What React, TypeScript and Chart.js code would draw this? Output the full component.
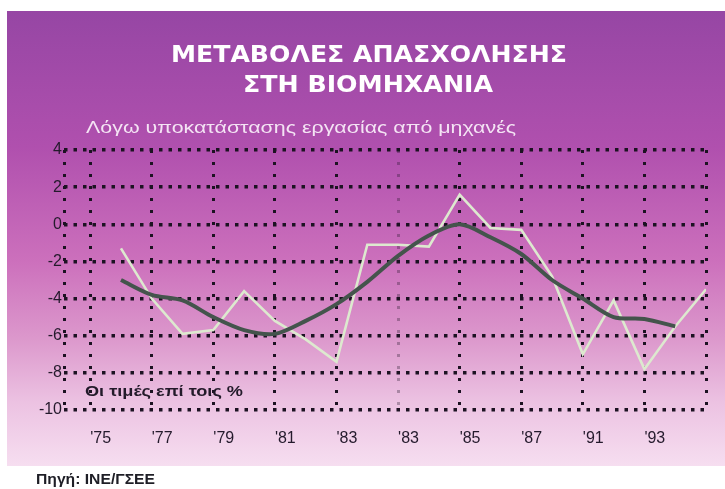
import React, { useEffect, useRef } from 'react';
import { Chart, registerables } from 'chart.js';

Chart.register(...registerables);

// Years of the annual series
const actualYears = [76, 77, 78, 79, 80, 81, 82, 83, 84, 85, 86, 87, 88, 89, 90, 91, 92, 93, 94, 95];
// Annual change in industrial employment (%), light line
const actualChange = [-1.3, -4.0, -5.9, -5.7, -3.6, -5.2, -6.2, -7.4, -1.1, -1.1, -1.2, 1.6, -0.2, -0.3, -2.8, -7.0, -4.1, -7.8, -5.5, -3.5];
// Smoothed trend (%), dark line
const trendYears = [76, 77, 78, 79, 80, 81, 82, 83, 84, 85, 86, 87, 88, 89, 90, 91, 92, 93, 94];
const trendChange = [-3.0, -3.8, -4.1, -5.0, -5.7, -5.9, -5.2, -4.3, -3.1, -1.7, -0.6, 0.0, -0.7, -1.6, -3.0, -4.0, -5.0, -5.1, -5.5];
// Axis ticks
const xMin = 74.15;
const xMax = 95;
const xTickYears = [75, 77, 79, 81, 83, 85, 87, 89, 91, 93, 95];
const xTickLabels = ["'75", "'77", "'79", "'81", "'83", "'83", "'85", "'87", "'91", "'93", ''];
const yMin = -10;
const yMax = 4;
const yStep = 2;

const titleLines = ['ΜΕΤΑΒΟΛΕΣ ΑΠΑΣΧΟΛΗΣΗΣ', 'ΣΤΗ ΒΙΟΜΗΧΑΝΙΑ'];
const subtitleText = 'Λόγω υποκατάστασης εργασίας από μηχανές';
const unitNote = 'Οι τιμές επί τοις %';
const sourceText = 'Πηγή: ΙΝΕ/ΓΣΕΕ';

function fitText(
  ctx: CanvasRenderingContext2D,
  text: string,
  x: number,
  y: number,
  width: number,
  font: string,
  color: string,
  align: 'left' | 'center'
) {
  ctx.save();
  ctx.font = font;
  ctx.fillStyle = color;
  ctx.textBaseline = 'middle';
  ctx.textAlign = 'left';
  const w = ctx.measureText(text).width;
  const s = width / w;
  const left = align === 'center' ? x - width / 2 : x;
  ctx.translate(left, y);
  ctx.scale(s, 1);
  ctx.fillText(text, 0, 0);
  ctx.restore();
}

const decorPlugin = {
  id: 'decor',
  beforeDraw(chart: any) {
    const ctx: CanvasRenderingContext2D = chart.ctx;
    ctx.save();
    ctx.fillStyle = '#ffffff';
    ctx.fillRect(0, 0, chart.width, chart.height);
    const top = 11;
    const bottom = 466;
    const g = ctx.createLinearGradient(0, top, 0, bottom);
    g.addColorStop(0, '#9646a4');
    g.addColorStop(0.3, '#b050ae');
    g.addColorStop(0.55, '#cc70bc');
    g.addColorStop(0.72, '#dc98cc');
    g.addColorStop(0.86, '#ecc2e2');
    g.addColorStop(1, '#f6def0');
    ctx.fillStyle = g;
    ctx.fillRect(7, top, chart.width - 7, bottom - top);
    ctx.restore();
  },
  afterDraw(chart: any) {
    const ctx: CanvasRenderingContext2D = chart.ctx;
    fitText(ctx, titleLines[0], 369, 56, 396, "bold 23px 'DejaVu Sans'", '#ffffff', 'center');
    fitText(ctx, titleLines[1], 368, 86, 250, "bold 23px 'DejaVu Sans'", '#ffffff', 'center');
    fitText(ctx, subtitleText, 86, 128, 430, "17px 'Liberation Sans'", '#f4e4f4', 'left');
    fitText(ctx, unitNote, 85, 392, 158, "bold 15px 'Liberation Sans'", '#231a2a', 'left');
    fitText(ctx, sourceText, 36, 480, 119, "bold 15px 'Liberation Sans'", '#1e1e26', 'left');
  },
};

export default function App() {
  const canvasRef = useRef<HTMLCanvasElement | null>(null);

  useEffect(() => {
    if (!canvasRef.current) return;
    const gridColor = '#1c1222';
    const chart = new Chart(canvasRef.current, {
      type: 'line',
      data: {
        datasets: [
          {
            label: 'trend',
            data: trendYears.map((x, i) => ({ x, y: trendChange[i] })),
            borderColor: '#44544c',
            borderWidth: 4,
            pointRadius: 0,
            tension: 0.3,
            fill: false,
          },
          {
            label: 'actual',
            data: actualYears.map((x, i) => ({ x, y: actualChange[i] })),
            borderColor: '#dde9cf',
            borderWidth: 2.6,
            pointRadius: 0,
            tension: 0,
            fill: false,
          },
        ],
      },
      options: {
        responsive: false,
        animation: false,
        devicePixelRatio: 1,
        layout: { padding: { left: 34, right: 18, top: 150, bottom: 39 } },
        plugins: {
          legend: { display: false },
          tooltip: { enabled: false },
          title: { display: false },
        },
        scales: {
          x: {
            type: 'linear',
            min: xMin,
            max: xMax,
            afterBuildTicks: (scale: any) => {
              scale.ticks = [xMin, ...xTickYears].map((v) => ({ value: v }));
            },
            afterFit: (scale: any) => {
              scale.height = 40;
            },
            border: { display: false, dash: [3, 9] },
            grid: {
              color: (c: any) => (c.index === 6 ? 'rgba(28,18,34,0.3)' : gridColor),
              lineWidth: 3,
              drawTicks: false,
            },
            ticks: {
              callback: (_v: any, i: number) => (i === 0 ? '' : xTickLabels[i - 1] ?? ''),
              align: 'start',
              padding: 19,
              color: '#241a2c',
              font: { family: "'Liberation Sans'", size: 16 },
              maxRotation: 0,
              autoSkip: false,
            },
          },
          y: {
            type: 'linear',
            min: yMin,
            max: yMax,
            afterFit: (scale: any) => {
              scale.width = 30;
            },
            border: { display: false, dash: [3.5, 6] },
            grid: {
              color: gridColor,
              lineWidth: 3.5,
              drawTicks: false,
            },
            ticks: {
              stepSize: yStep,
              padding: 2,
              color: '#241a2c',
              font: { family: "'Liberation Sans'", size: 16 },
            },
          },
        },
      },
      plugins: [decorPlugin],
    } as any);
    return () => chart.destroy();
  }, []);

  return (
    <div style={{ position: 'fixed', left: 0, top: 0, width: 725, height: 489 }}>
      <canvas ref={canvasRef} width={725} height={489} style={{ display: 'block' }} />
    </div>
  );
}
